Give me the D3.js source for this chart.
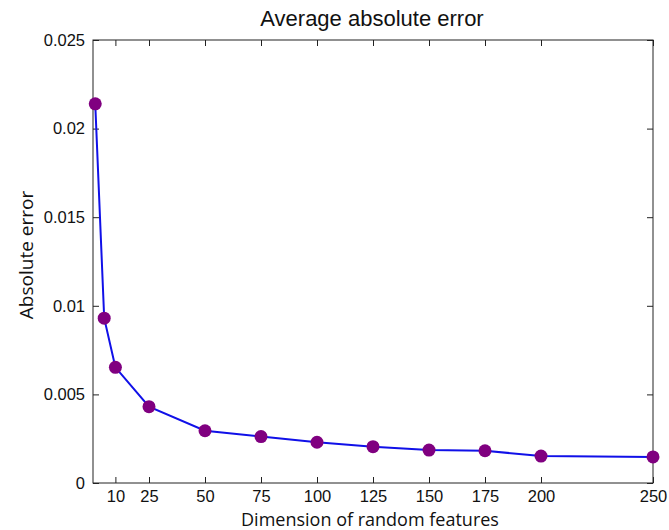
<!DOCTYPE html>
<html>
<meta charset="utf-8">
<head>
<style>
body { margin: 0; background: #fff; }
.axis path { display: none; }
.axis line { stroke: #222; }
.axis text { font-family: "Liberation Sans", Arial, sans-serif; font-size: 16.5px; fill: #111; }
</style>
</head>
<body>
<svg width="669" height="530"></svg>

<script src="https://cdn.jsdelivr.net/npm/d3@7"></script>

<script>

// dimension of random features
var dims = [1, 5, 10, 25, 50, 75, 100, 125, 150, 175, 200, 250];
// average absolute error
var errs = [0.0214, 0.0093, 0.00653, 0.00431, 0.00295, 0.00262, 0.0023, 0.00205, 0.00186, 0.00182, 0.00152, 0.00147];

var xTicks = [10, 25, 50, 75, 100, 125, 150, 175, 200, 250];
var yTicks = [0, 0.005, 0.01, 0.015, 0.02, 0.025];
var yTickLabels = ["0", "0.005", "0.01", "0.015", "0.02", "0.025"];

var svg = d3.select("svg"),
    margin = {top: 40, right: 16, bottom: 47, left: 93},
    width = +svg.attr("width") - margin.left - margin.right,
    height = +svg.attr("height") - margin.top - margin.bottom;

var g = svg.append("g")
    .attr("transform", "translate(" + margin.left + "," + margin.top + ")");

var x = d3.scaleLinear().domain([0, 250]).range([0, width]);
var y = d3.scaleLinear().domain([0, 0.025]).range([height, 0]);

//ticks point inward, matlab style
g.append("g")
    .attr("class", "axis")
    .attr("transform", "translate(0," + height + ")")
    .call(d3.axisBottom(x).tickValues(xTicks).tickSizeInner(-6).tickSizeOuter(0).tickPadding(7));

g.append("g")
    .attr("class", "axis")
    .call(d3.axisTop(x).tickValues(xTicks).tickSizeInner(-6).tickSizeOuter(0).tickFormat(""));

g.append("g")
    .attr("class", "axis")
    .call(d3.axisLeft(y).tickValues(yTicks).tickSizeInner(-6).tickSizeOuter(0).tickPadding(8)
      .tickFormat(function(d, i) { return yTickLabels[i]; }));

g.append("g")
    .attr("class", "axis")
    .attr("transform", "translate(" + width + ",0)")
    .call(d3.axisRight(y).tickValues(yTicks).tickSizeInner(-6).tickSizeOuter(0).tickFormat(""));

//box
g.append("rect")
    .attr("width", width)
    .attr("height", height)
    .attr("fill", "none")
    .attr("stroke", "#222")
    .attr("stroke-width", 1);

var pts = dims.map(function(d, i) { return {x: d, y: errs[i]}; });

var line = d3.line()
    .x(function(d) { return x(d.x); })
    .y(function(d) { return y(d.y); });

g.append("path")
    .datum(pts)
    .attr("d", line)
    .attr("fill", "none")
    .attr("stroke", "#1010e8")
    .attr("stroke-width", 2);

g.selectAll("circle")
    .data(pts)
    .enter().append("circle")
      .attr("cx", function(d) { return x(d.x); })
      .attr("cy", function(d) { return y(d.y); })
      .attr("r", 6.5)
      .attr("fill", "#800080");

//title and labels
svg.append("text")
    .attr("x", 372)
    .attr("y", 26)
    .attr("text-anchor", "middle")
    .style("font-family", "Liberation Sans, Arial, sans-serif")
    .style("font-size", "22px")
    .style("fill", "#111")
    .text("Average absolute error");

svg.append("text")
    .attr("x", 370)
    .attr("y", 526)
    .attr("text-anchor", "middle")
    .style("font-family", "Open Sans, sans-serif")
    .style("font-size", "18px")
    .style("fill", "#111")
    .text("Dimension of random features");

svg.append("text")
    .attr("transform", "translate(33,255) rotate(-90)")
    .attr("text-anchor", "middle")
    .style("font-family", "Open Sans, sans-serif")
    .style("font-size", "19px")
    .style("fill", "#111")
    .text("Absolute error");

</script>
</body>
</html>
